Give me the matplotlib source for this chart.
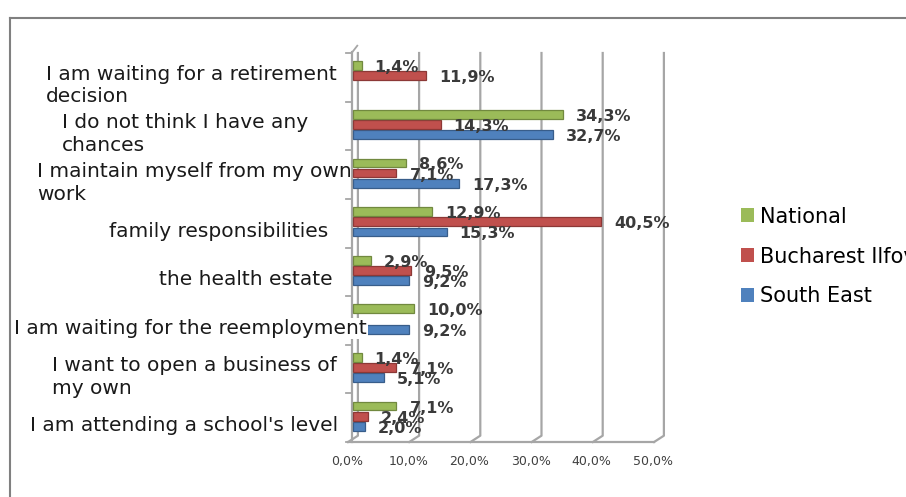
import numpy as np
import matplotlib
matplotlib.use("Agg")
import matplotlib.pyplot as plt
import matplotlib.transforms as mtransforms
from matplotlib.lines import Line2D
from matplotlib.patches import Patch

# reasons for not looking for a job, share of respondents (%)
categories = ["I am attending a school's level",
              "I want to open a business of\nmy own",
              "I am waiting for the reemployment",
              "the health estate",
              "family responsibilities",
              "I maintain myself from my own\nwork",
              "I do not think I have any\nchances",
              "I am waiting for a retirement\ndecision"]
south_east = [2.0, 5.1, 9.2, 9.2, 15.3, 17.3, 32.7, None]
bucharest_ilfov = [2.4, 7.1, None, 9.5, 40.5, 7.1, 14.3, 11.9]
national = [7.1, 1.4, 10.0, 2.9, 12.9, 8.6, 34.3, 1.4]
x_ticks = [0, 10, 20, 30, 40, 50]

# label right edges (px) for the wrapped category text
label_right = [338, 337, 367, 333, 328, 352, 308, 337]

W, H, DPI = 906, 497, 100
fig = plt.figure(figsize=(W / DPI, H / DPI), dpi=DPI)
ax = fig.add_axes([353 / W, 1 - 442 / H, 306 / W, 389 / H])
ax.set_xlim(0, 50)
ax.set_ylim(0, 8)
for s in ax.spines.values():
    s.set_visible(False)
ax.set_yticks([])

grid_c = "#a6a6a6"
# back wall gridlines + floor in a fake 3d look
for k in x_ticks:
    ax.plot([k + 0.8, k + 0.8, k - 0.8], [8, 0.13, 0], color=grid_c, lw=1.6,
            clip_on=False, zorder=1)
ax.plot([-0.8, 49.2], [0, 0], color=grid_c, lw=1.6, clip_on=False, zorder=1)
ax.plot([-0.1, -0.1], [0, 8.02], color=grid_c, lw=1.6, clip_on=False, zorder=1)
ax.plot([-0.1, 0.7], [8.02, 8.15], color=grid_c, lw=1.3, clip_on=False, zorder=1)
for i in range(9):
    ax.plot([-1.1, -0.1], [i, i], color=grid_c, lw=1.3, clip_on=False, zorder=1)

series = [(south_east, 0.32, "#4f81bd", "#385d8a", "South East"),
          (bucharest_ilfov, 0.53, "#c0504d", "#8c3836", "Bucharest Ilfov"),
          (national, 0.74, "#9bbb59", "#71893f", "National")]

y = np.arange(len(categories))
for vals, off, col, edge, name in series:
    v = np.array([np.nan if a is None else a for a in vals], dtype=float)
    ax.barh(y + off, v, height=0.18, color=col, edgecolor=edge, lw=0.9,
            zorder=3, clip_on=False)
    for yi, a in zip(y, vals):
        if a is None:
            continue
        ax.annotate(f"{a:.1f}%".replace(".", ","), (a, yi + off),
                    xytext=(13, -2), textcoords="offset pixels",
                    ha="left", va="center", fontsize=11.5, fontweight="bold",
                    color="#3a3a3a", zorder=4)

# x tick labels sit on the front edge of the floor
ax.set_xticks(x_ticks)
ax.set_xticklabels([f"{t:.1f}%".replace(".", ",") for t in x_ticks],
                   fontsize=9, color="#404040")
ax.tick_params(axis="x", length=0, pad=9)
shift = mtransforms.ScaledTranslation(-6 / DPI, 0, fig.dpi_scale_trans)
for lab in ax.get_xticklabels():
    lab.set_transform(lab.get_transform() + shift)

# category labels
for i, (txt, rx) in enumerate(zip(categories, label_right)):
    yy = 1 - (442 - 48.6 * (i + 0.5) + 8) / H
    kw = {}
    if i == 2:
        kw["bbox"] = dict(facecolor="white", edgecolor="none", pad=1)
    fig.text(rx / W, yy, txt, ha="right", va="center", multialignment="left",
             fontsize=14.5, color="#1a1a1a", linespacing=1.25, zorder=6, **kw)

# outer frame (only top and left edges are visible)
fig.add_artist(Line2D([10 / W, 10 / W], [0, 1 - 18 / H], color="#808080", lw=1.5, zorder=0))
fig.add_artist(Line2D([10 / W, 1], [1 - 18 / H, 1 - 18 / H], color="#808080", lw=1.5, zorder=0))

handles = [Patch(facecolor=c, edgecolor="none") for _, _, c, _, _ in series[::-1]]
names = [n for *_, n in series[::-1]]
fig.legend(handles, names, loc="upper left", bbox_to_anchor=(722 / W, 1 - 188 / H),
           frameon=False, fontsize=15, handlelength=0.65, handleheight=0.65,
           handletextpad=0.25, labelspacing=0.95)

fig.savefig("out.png", dpi=DPI)
